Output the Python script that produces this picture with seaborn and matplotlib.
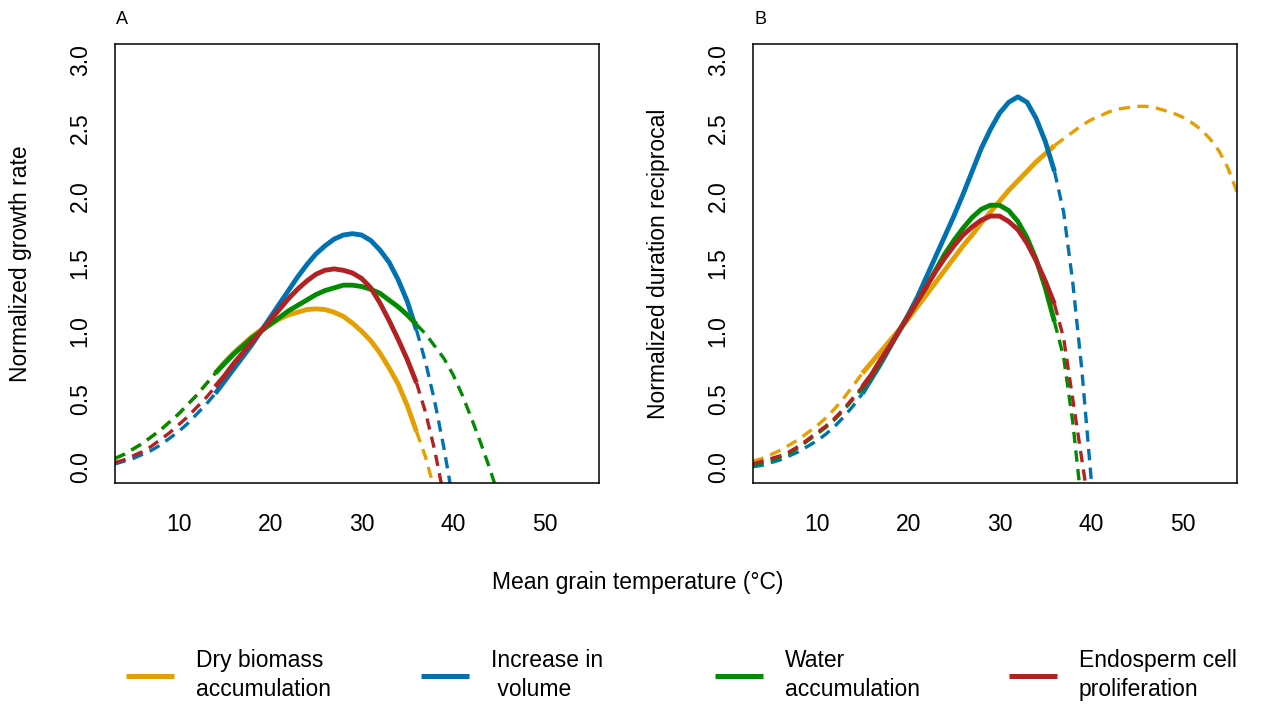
import numpy as np
import pandas as pd
import matplotlib
matplotlib.use("Agg")
import matplotlib.pyplot as plt
from matplotlib.lines import Line2D
import seaborn as sns

# ---------------- data ----------------
TEMP_START = 3  # first temperature (°C); values below are at 1 °C steps

# Panel A: normalized growth rate
A_DRY_BIOMASS = [0.06, 0.09, 0.13, 0.17, 0.22, 0.27, 0.33, 0.39, 0.46, 0.53, 0.61, 0.69,
                 0.77, 0.84, 0.90, 0.96, 1.01, 1.05, 1.09, 1.12, 1.14, 1.16, 1.165, 1.16,
                 1.14, 1.11, 1.06, 1.00, 0.93, 0.84, 0.73, 0.61, 0.45, 0.26, 0.07, -0.18]
A_VOLUME = [0.02, 0.04, 0.06, 0.09, 0.12, 0.16, 0.21, 0.26, 0.32, 0.39, 0.46, 0.54,
            0.63, 0.72, 0.81, 0.90, 1.00, 1.10, 1.20, 1.30, 1.40, 1.49, 1.57, 1.63,
            1.68, 1.71, 1.72, 1.71, 1.67, 1.60, 1.51, 1.38, 1.22, 1.01, 0.77, 0.48,
            0.14, -0.25]
A_WATER = [0.06, 0.09, 0.13, 0.17, 0.22, 0.27, 0.33, 0.39, 0.46, 0.53, 0.61, 0.69,
           0.76, 0.83, 0.89, 0.95, 1.00, 1.05, 1.10, 1.15, 1.19, 1.23, 1.27, 1.30,
           1.32, 1.34, 1.34, 1.33, 1.31, 1.28, 1.23, 1.18, 1.12, 1.05, 0.98, 0.89,
           0.80, 0.68, 0.53, 0.36, 0.18, -0.01, -0.22]
A_ENDOSPERM = [0.03, 0.05, 0.08, 0.11, 0.15, 0.20, 0.25, 0.31, 0.37, 0.44, 0.51, 0.59,
               0.67, 0.76, 0.84, 0.92, 1.00, 1.08, 1.16, 1.24, 1.31, 1.37, 1.42, 1.45,
               1.46, 1.45, 1.43, 1.39, 1.32, 1.21, 1.08, 0.94, 0.79, 0.62, 0.40, 0.12,
               -0.22]

# Panel B: normalized duration reciprocal
B_DRY_BIOMASS = [0.04, 0.06, 0.09, 0.12, 0.16, 0.20, 0.25, 0.30, 0.36, 0.43, 0.51, 0.60,
                 0.69, 0.77, 0.85, 0.93, 1.01, 1.09, 1.18, 1.27, 1.36, 1.45, 1.54, 1.63,
                 1.71, 1.80, 1.88, 1.96, 2.04, 2.11, 2.18, 2.25, 2.31, 2.37, 2.42, 2.47,
                 2.52, 2.56, 2.59, 2.62, 2.64, 2.65, 2.66, 2.66, 2.65, 2.63, 2.61, 2.58,
                 2.54, 2.49, 2.42, 2.33, 2.20, 2.02]
B_VOLUME = [0.00, 0.01, 0.03, 0.05, 0.08, 0.11, 0.15, 0.19, 0.24, 0.30, 0.37, 0.45,
            0.54, 0.65, 0.76, 0.88, 1.00, 1.12, 1.25, 1.40, 1.55, 1.70, 1.85, 2.01,
            2.18, 2.35, 2.49, 2.61, 2.69, 2.73, 2.69, 2.57, 2.40, 2.18, 1.88, 1.36,
            0.71, -0.08, -0.90]
B_WATER = [0.01, 0.03, 0.05, 0.07, 0.10, 0.14, 0.19, 0.24, 0.29, 0.35, 0.42, 0.50,
           0.58, 0.67, 0.78, 0.89, 1.00, 1.11, 1.22, 1.33, 1.45, 1.57, 1.67, 1.76,
           1.84, 1.90, 1.93, 1.93, 1.89, 1.81, 1.69, 1.53, 1.32, 1.07, 0.81, 0.33,
           -0.30]
B_ENDOSPERM = [0.02, 0.04, 0.06, 0.08, 0.11, 0.15, 0.20, 0.25, 0.30, 0.36, 0.43, 0.51,
               0.59, 0.68, 0.79, 0.89, 1.00, 1.11, 1.22, 1.33, 1.44, 1.54, 1.63, 1.71,
               1.77, 1.82, 1.85, 1.85, 1.81, 1.75, 1.65, 1.52, 1.37, 1.20, 0.95, 0.50,
               0.05, -0.40]

SERIES = ["Dry biomass\naccumulation", "Increase in\n volume",
          "Water\naccumulation", "Endosperm cell\nproliferation"]
COLORS = ["#E69F00", "#0072B2", "#008B00", "#B22222"]
PANELS = ["A", "B"]
PANEL_DATA = {"A": [A_DRY_BIOMASS, A_VOLUME, A_WATER, A_ENDOSPERM],
              "B": [B_DRY_BIOMASS, B_VOLUME, B_WATER, B_ENDOSPERM]}
OBSERVED_RANGE = {"A": (14, 36), "B": (15, 36)}  # solid part (observed temperatures)
YLABELS = {"A": "Normalized growth rate", "B": "Normalized duration reciprocal"}
XLABEL = "Mean grain temperature (°C)"
XTICKS = [10, 20, 30, 40, 50]
YTICKS = [0.0, 0.5, 1.0, 1.5, 2.0, 2.5, 3.0]
XLIM = (3.04, 55.96)
YLIM = (-0.12, 3.12)

# ---------------- build long table ----------------
rows = []
for panel in PANELS:
    for name, vals in zip(SERIES, PANEL_DATA[panel]):
        for i, v in enumerate(vals):
            rows.append({"panel": panel, "series": name, "temp": TEMP_START + i, "value": v})
df = pd.DataFrame(rows)

# ---------------- style ----------------
sns.set_style("white")
plt.rcParams["font.family"] = ["Liberation Sans", "DejaVu Sans"]
plt.rcParams["text.color"] = "black"
plt.rcParams["axes.labelcolor"] = "black"
plt.rcParams["xtick.color"] = "black"
plt.rcParams["ytick.color"] = "black"
FS = 16.5

fig = plt.figure(figsize=(12.75, 7.06), dpi=100)
axes = {
    "A": fig.add_axes([0.0902, 0.3159, 0.3796, 0.6218]),
    "B": fig.add_axes([0.5906, 0.3159, 0.3796, 0.6218]),
}

SOLID_LW = 3.5
DASH_LW = 2.4
DASH = (0, (3.4, 2.2))

for panel in PANELS:
    ax = axes[panel]
    lo, hi = OBSERVED_RANGE[panel]
    for name, color in zip(SERIES, COLORS):
        d = df[(df.panel == panel) & (df.series == name)]
        left = d[d.temp <= lo]
        mid = d[(d.temp >= lo) & (d.temp <= hi)]
        right = d[d.temp >= hi]
        for seg, ls, lw in ((left, DASH, DASH_LW), (right, DASH, DASH_LW), (mid, "-", SOLID_LW)):
            sns.lineplot(data=seg, x="temp", y="value", ax=ax, color=color,
                         linestyle=ls, linewidth=lw, estimator=None, sort=False,
                         legend=False, solid_capstyle="butt", dash_capstyle="butt",
                         solid_joinstyle="round")
    ax.set_xlim(*XLIM)
    ax.set_ylim(*YLIM)
    ax.set_xticks(XTICKS)
    ax.set_yticks(YTICKS)
    ax.set_xticklabels([str(t) for t in XTICKS])
    ax.set_yticklabels([f"{t:.1f}" for t in YTICKS])
    ax.set_xlabel("")
    ax.set_ylabel(YLABELS[panel], fontsize=FS, color="black")
    ax.yaxis.set_label_coords(-0.172, 0.5)
    ax.tick_params(axis="both", direction="out", length=5.8, width=1.1,
                   color="black", labelsize=FS, labelcolor="black")
    ax.tick_params(axis="x", pad=16)
    ax.tick_params(axis="y", pad=11)
    for lab in ax.get_yticklabels():
        lab.set_rotation(90)
        lab.set_va("center")
        lab.set_ha("right")
    for sp in ax.spines.values():
        sp.set_visible(True)
        sp.set_color("black")
        sp.set_linewidth(1.1)
    ax.text(0.003, 1.055, panel, transform=ax.transAxes, ha="left", va="center",
            fontsize=13, color="black")

fig.text(0.5, 1 - 582 / 706, XLABEL, ha="center", va="center", fontsize=FS, color="black")

# legend: four entries in one row
LEG_X_PX = [126, 421, 715, 1009]
for name, color, xpx in zip(SERIES, COLORS, LEG_X_PX):
    h = Line2D([], [], color=color, lw=3.6, solid_capstyle="butt")
    leg = fig.legend([h], [name], loc="center left",
                     bbox_to_anchor=(xpx / 1275, 1 - 675 / 706),
                     bbox_transform=fig.transFigure, frameon=False,
                     fontsize=FS, handlelength=2.1, handletextpad=0.95,
                     borderpad=0, borderaxespad=0)
    for t in leg.get_texts():
        t.set_linespacing(1.3)
        t.set_color("black")

fig.savefig("out.png", dpi=100)
